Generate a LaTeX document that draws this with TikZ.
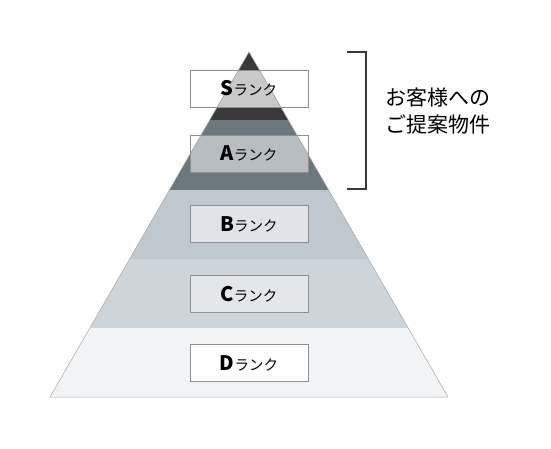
\documentclass[tikz,border=0pt]{standalone}
\usepackage{fontspec}
\newfontfamily\jp{Noto Sans CJK JP}
\usetikzlibrary{backgrounds}
\definecolor{dark}{HTML}{3A3838}
\definecolor{slate}{HTML}{6B787D}
\definecolor{bandB}{HTML}{C0C8CF}
\definecolor{bandC}{HTML}{CDD4DA}
\definecolor{bandD}{HTML}{F2F3F5}
\definecolor{inS}{HTML}{C9C9C9}
\definecolor{inA}{HTML}{B7BDC0}
\definecolor{inB}{HTML}{E0E4E8}
\definecolor{inC}{HTML}{E3E7EA}
\definecolor{inD}{HTML}{FFFFFF}
\definecolor{boxline}{HTML}{8C9093}
\begin{document}
\begin{tikzpicture}[x=1pt,y=-1pt,
  rankbox/.style={draw=boxline,line width=0.9pt,minimum width=118pt,minimum height=37pt,inner sep=0pt,font=\jp,text=black},
]
\useasboundingbox (0,0) rectangle (551,449);
\coordinate (apex) at (249,52);
\coordinate (bl) at (50,397);
\coordinate (br) at (448,397);
\newcommand{\rk}[1]{{\fontsize{20}{20}\selectfont\bfseries #1}{\fontsize{14.5}{14.5}\selectfont ランク}}
\node[rankbox] (s) at (249,88.5) {\rk{S}};
\node[rankbox] (a) at (249,153.5) {\rk{A}};
\node[rankbox] (b) at (249,224) {\rk{B}};
\node[rankbox] (c) at (249,294) {\rk{C}};
\node[rankbox] (d) at (249,363) {\rk{D}};
\begin{scope}[on background layer]
  \begin{scope}
    \clip (apex) -- (bl) -- (br) -- cycle;
    \fill[dark] (0,40) rectangle (551,120);
    \fill[slate] (0,120) rectangle (551,190);
    \fill[bandB] (0,190) rectangle (551,259);
    \fill[bandC] (0,259) rectangle (551,328);
    \fill[bandD] (0,328) rectangle (551,400);
    \fill[inS] (s.north west) rectangle (s.south east);
    \fill[inA] (a.north west) rectangle (a.south east);
    \fill[inB] (b.north west) rectangle (b.south east);
    \fill[inC] (c.north west) rectangle (c.south east);
    \fill[inD] (d.north west) rectangle (d.south east);
  \end{scope}
  \draw[draw=gray!70,line width=0.5pt] (apex) -- (bl) -- (br) -- cycle;
\end{scope}
\coordinate (bt) at (347,52);
\coordinate (bb) at (347,189);
\draw[dark,line width=1.4pt] (bt) -- ++(19,0) |- (bb);
\node[anchor=west,align=left,font=\jp\fontsize{21}{27}\selectfont,text=black] (lbl) at (382,111) {お客様への\\ご提案物件};
\end{tikzpicture}
\end{document}
